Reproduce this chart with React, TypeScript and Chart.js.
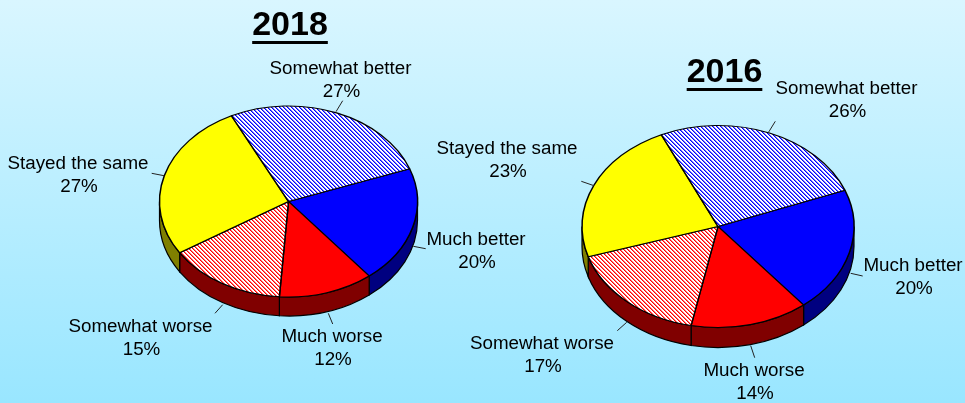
import React, { useEffect, useRef } from "react";
import { Chart, registerables } from "chart.js";

Chart.register(...registerables);

const categories = ["Much better", "Much worse", "Somewhat worse", "Stayed the same", "Somewhat better"];
const values2018 = [20, 12, 15, 27, 27];
const values2016 = [20, 14, 17, 23, 26];

const FONT = '"Liberation Sans", Arial, sans-serif';
const faceColors = ["#0000ff", "#ff0000", "hatch:#ff0000", "#ffff00", "hatch:#0000ff"];
const wallColors = ["#000080", "#800000", "#800000", "#808000", "#000080"];

type Callout = { x: number; y: number; from: [number, number]; to: [number, number] };

type PieLayout = {
  title: string;
  titleX: number;
  titleY: number;
  cx: number;
  cy: number;
  rx: number;
  ry: number;
  depth: number;
  rotation: number;
  callouts: Callout[];
};

const layout2018: PieLayout = {
  title: "2018",
  titleX: 290,
  titleY: 35,
  cx: 288.5,
  cy: 201.5,
  rx: 129,
  ry: 95.5,
  depth: 19,
  rotation: 70,
  callouts: [
    { x: 476, y: 245, from: [425.7, 248.7], to: [413.3, 246.3] },
    { x: 332, y: 342, from: [332.7, 324], to: [328.3, 313.3] },
    { x: 140.5, y: 332, from: [215, 313.3], to: [222.7, 304.7] },
    { x: 78, y: 169, from: [151.7, 173.3], to: [164, 175.7] },
    { x: 340.5, y: 74, from: [342.7, 100.7], to: [336, 111.7] },
  ],
};

const layout2016: PieLayout = {
  title: "2016",
  titleX: 724.5,
  titleY: 82,
  cx: 718,
  cy: 226.5,
  rx: 136,
  ry: 101,
  depth: 20,
  rotation: 69,
  callouts: [
    { x: 913, y: 271, from: [862.7, 276], to: [850.7, 273.3] },
    { x: 754, y: 376, from: [754.7, 357.7], to: [750.7, 345.7] },
    { x: 542, y: 349, from: [617.3, 330.7], to: [626.7, 322.3] },
    { x: 507, y: 154, from: [581.3, 181.3], to: [594, 185.7] },
    { x: 846.5, y: 94, from: [775.3, 121.3], to: [768.7, 132] },
  ],
};

// Diagonal hatch with a soft trailing pixel; the inverse scale keeps it square under the tilted pie.
function hatchPattern(ctx: CanvasRenderingContext2D, color: string, soft: string, tilt: number) {
  const tile = document.createElement("canvas");
  tile.width = 4;
  tile.height = 4;
  const g = tile.getContext("2d")!;
  g.fillStyle = "#ffffff";
  g.fillRect(0, 0, 4, 4);
  for (let y = 0; y < 4; y++) {
    for (let x = 0; x < 4; x++) {
      const phase = (x - y + 4) % 4;
      if (phase === 0) {
        g.fillStyle = color;
        g.fillRect(x, y, 1, 1);
      } else if (phase === 1) {
        g.fillStyle = soft;
        g.fillRect(x, y, 1, 1);
      }
    }
  }
  const pattern = ctx.createPattern(tile, "repeat")!;
  pattern.setTransform(new DOMMatrix().scale(1, 1 / tilt));
  return pattern;
}

// Draws the side wall, tilts the top face, and adds the title and callouts.
function tiltedPiePlugin(cfg: PieLayout, values: number[]) {
  const tilt = cfg.ry / cfg.rx;
  return {
    id: "tiltedPie",
    beforeDatasetsDraw(chart: any) {
      const ctx: CanvasRenderingContext2D = chart.ctx;
      const arcs = chart.getDatasetMeta(0).data;
      ctx.save();
      ctx.lineWidth = 1.2;
      ctx.strokeStyle = "#000000";
      arcs.forEach((arc: any, i: number) => {
        for (const turn of [0, -Math.PI * 2]) {
          const a0 = Math.max(arc.startAngle + turn, 0);
          const a1 = Math.min(arc.endAngle + turn, Math.PI);
          if (a1 <= a0) continue;
          ctx.beginPath();
          ctx.ellipse(cfg.cx, cfg.cy, cfg.rx, cfg.ry, 0, a0, a1);
          ctx.ellipse(cfg.cx, cfg.cy + cfg.depth, cfg.rx, cfg.ry, 0, a1, a0, true);
          ctx.closePath();
          ctx.fillStyle = wallColors[i];
          ctx.fill();
          ctx.stroke();
        }
      });
      ctx.restore();

      ctx.save();
      ctx.imageSmoothingEnabled = false;
      ctx.translate(0, cfg.cy);
      ctx.scale(1, tilt);
      ctx.translate(0, -cfg.cy);
    },
    afterDatasetsDraw(chart: any) {
      const ctx: CanvasRenderingContext2D = chart.ctx;
      ctx.restore();

      ctx.save();
      ctx.fillStyle = "#000000";
      ctx.textAlign = "center";
      ctx.textBaseline = "alphabetic";
      ctx.font = `bold 34px ${FONT}`;
      ctx.fillText(cfg.title, cfg.titleX, cfg.titleY);
      const titleWidth = ctx.measureText(cfg.title).width;
      ctx.fillRect(cfg.titleX - titleWidth / 2, cfg.titleY + 6, titleWidth, 3);

      ctx.font = `18.8px ${FONT}`;
      cfg.callouts.forEach((c, i) => {
        ctx.fillText(categories[i], c.x, c.y);
        ctx.fillText(`${values[i]}%`, c.x + 1, c.y + 22.5);
        ctx.beginPath();
        ctx.moveTo(c.from[0], c.from[1]);
        ctx.lineTo(c.to[0], c.to[1]);
        ctx.lineWidth = 1;
        ctx.strokeStyle = "#222222";
        ctx.stroke();
      });
      ctx.restore();
    },
  };
}

function buildChart(canvas: HTMLCanvasElement, cfg: PieLayout, values: number[]) {
  const ctx = canvas.getContext("2d")!;
  const tilt = cfg.ry / cfg.rx;
  const width = canvas.width;
  const height = canvas.height;
  const softShade: Record<string, string> = { "#ff0000": "#ff7070", "#0000ff": "#7070ff" };
  return new Chart(ctx, {
    type: "pie",
    data: {
      labels: categories,
      datasets: [
        {
          data: values,
          backgroundColor: faceColors.map((c) => {
            if (!c.startsWith("hatch:")) return c;
            const base = c.slice(6);
            return hatchPattern(ctx, base, softShade[base], tilt);
          }) as any,
          borderColor: "#000000",
          borderWidth: 1.5,
          radius: cfg.rx,
          clip: false as any,
        },
      ],
    },
    options: {
      animation: false,
      responsive: false,
      events: [],
      rotation: cfg.rotation,
      layout: {
        padding: {
          left: Math.max(2 * cfg.cx - width, 0),
          right: Math.max(width - 2 * cfg.cx, 0),
          top: Math.max(2 * cfg.cy - height, 0),
          bottom: Math.max(height - 2 * cfg.cy, 0),
        },
      },
      plugins: {
        legend: { display: false },
        tooltip: { enabled: false },
      },
    },
    plugins: [tiltedPiePlugin(cfg, values)],
  });
}

const layerStyle: React.CSSProperties = { position: "absolute", left: 0, top: 0, width: 965, height: 403 };

export default function App() {
  const leftRef = useRef<HTMLCanvasElement>(null);
  const rightRef = useRef<HTMLCanvasElement>(null);

  useEffect(() => {
    const charts = [
      buildChart(leftRef.current!, layout2018, values2018),
      buildChart(rightRef.current!, layout2016, values2016),
    ];
    return () => charts.forEach((c) => c.destroy());
  }, []);

  return (
    <div
      style={{
        position: "fixed",
        left: 0,
        top: 0,
        width: 965,
        height: 403,
        overflow: "hidden",
        background: "linear-gradient(180deg, #d9f6ff 0%, #99e6ff 100%)",
      }}
    >
      <canvas ref={leftRef} width={965} height={403} style={layerStyle} />
      <canvas ref={rightRef} width={965} height={403} style={layerStyle} />
    </div>
  );
}
